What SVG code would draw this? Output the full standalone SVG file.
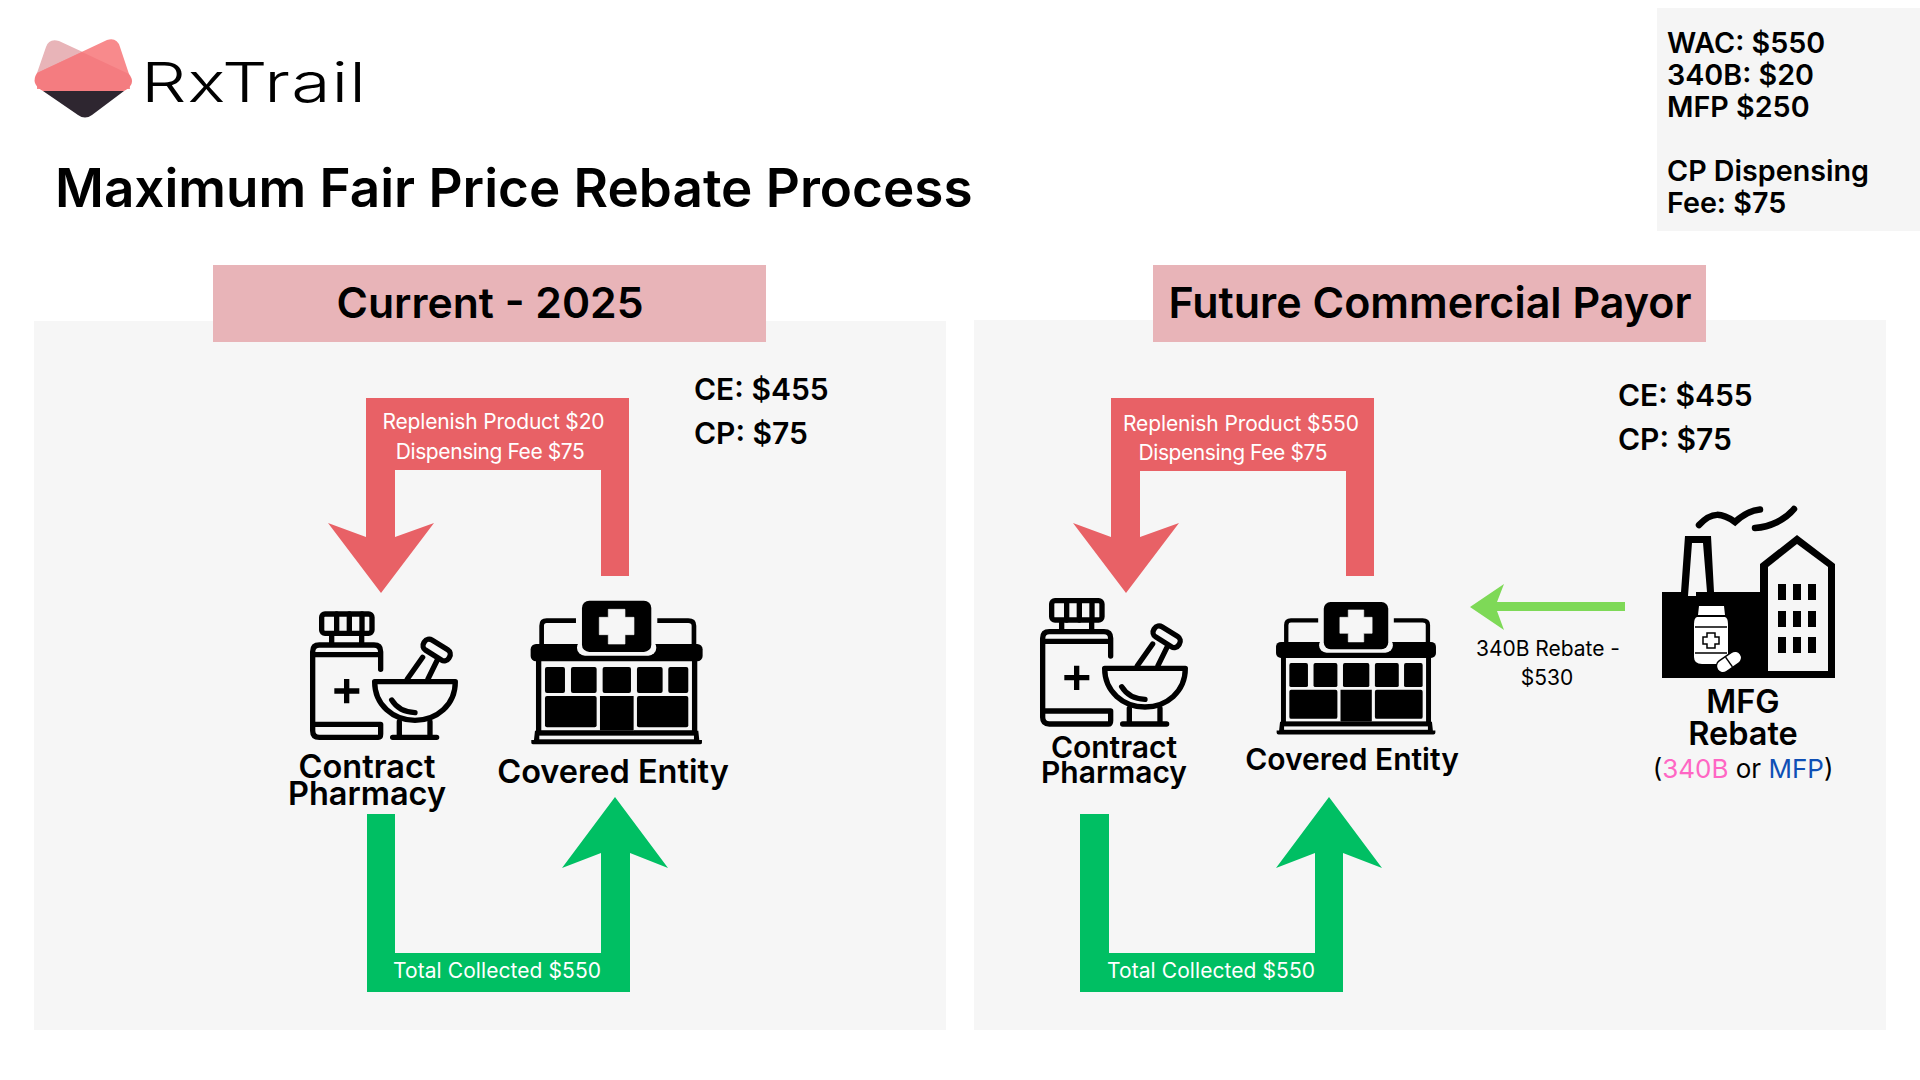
<svg xmlns="http://www.w3.org/2000/svg" width="1920" height="1080" viewBox="0 0 1920 1080">
<style>
text{font-family:"Inter","Noto Sans","Liberation Sans",sans-serif;fill:#000}
.t{font-weight:600}
.w{fill:#fff;font-size:21px;font-weight:400;text-anchor:middle}
.n{font-size:30px;font-weight:600;text-anchor:middle}
.nl{font-size:32.500px;font-weight:600;text-anchor:middle}
.p{fill:#f6f6f6}
.h{fill:#e8b4b8}
.red{fill:#e86166}
.grn{fill:#00bf63}
.ln{fill:none;stroke:#000;stroke-width:16;stroke-linecap:round;stroke-linejoin:round}
</style>
<defs>
<g id="pharm">
<rect x="125" y="102" width="151" height="58" rx="10" class="ln"/>
<path d="M170 102V160M208 102V160M246 102V160M155 165V190M245 165V190" class="ln"/>
<path d="M302 268V215Q302 195 282 195H118Q98 195 98 215V452Q98 472 118 472H295Q302 472 302 462V433H100" class="ln"/>
<path d="M100 224H300" class="ln"/>
<path d="M163 333H238M200 297V370" fill="none" stroke="#000" stroke-width="16"/>
<path d="M284 305H526C526 375 470 421 405 421C340 421 284 375 284 305Z" class="ln"/>
<path d="M335 360C350 385 375 397 405 398" class="ln"/>
<path d="M382 297L428 232M444 297L472 240" class="ln"/>
<rect x="-44" y="-18" width="88" height="36" rx="16" transform="translate(470 210) rotate(32)" class="ln"/>
<path d="M358 425V470M450 425V470M338 472H470" class="ln"/>
</g>
<g id="entity">
<path d="M888 122H800Q785 122 785 137V205M1132 122H1225Q1242 122 1242 137V205" fill="none" stroke="#000" stroke-width="14"/>
<rect x="752" y="192" width="516" height="52" rx="16"/>
<rect x="891" y="180" width="238" height="47" rx="24" fill="#f6f6f6"/>
<rect x="906" y="62" width="208" height="154" rx="22"/>
<path d="M985 88H1035V112H1062V164H1035V192H985V164H958V112H985Z" fill="#f6f6f6" stroke="#f6f6f6" stroke-width="2" stroke-linejoin="round"/>
<path d="M776 240V470M1244 240V470" stroke="#000" stroke-width="16" fill="none"/>
<g>
<rect x="795" y="261" width="60" height="78" rx="6"/><rect x="873" y="261" width="77" height="78" rx="6"/><rect x="968" y="261" width="85" height="78" rx="6"/><rect x="1071" y="261" width="77" height="78" rx="6"/><rect x="1165" y="261" width="60" height="78" rx="6"/>
<rect x="795" y="348" width="155" height="94" rx="6"/><rect x="1071" y="348" width="154" height="94" rx="6"/>
<path d="M960 348H1061V452H960Z"/>
</g>
<path d="M765 452H1255L1258 480H1266V488Q1266 493 1260 493H760Q754 493 754 488V480H762Z"/>
<rect x="778" y="451" width="182" height="16" fill="#000"/><rect x="1061" y="451" width="182" height="16" fill="#000"/>
<rect x="778" y="467" width="464" height="11" fill="#f6f6f6"/>
</g>
</defs>
<rect width="1920" height="1080" fill="#fff"/>

<g id="logo">
<path d="M37 73L46 47Q49 38 59 41L100 60Z" fill="#e8b4b8"/>
<path d="M37 73L107 40Q117 37 120 47L129 74L130 89H37Z" fill="#f88a8c"/>
<path d="M37 73L82 52L129 74Q137 84 124 91H43Q30 84 37 73Z" fill="#f47c80"/>
<path d="M43 91H124L92 115Q85 120 78 115Z" fill="#2e2630"/>
<text transform="translate(141 102) scale(1.3 1)" x="0" y="0" font-size="55" font-weight="300" textLength="173" lengthAdjust="spacing">RxTrail</text>
</g>
<text id="title" class="t" x="55" y="207" font-size="53">Maximum Fair Price Rebate Process</text>

<g id="info">
<rect x="1657" y="8" width="263" height="223" fill="#f5f5f5"/>
<g font-size="28.700" class="t"><text x="1667" y="53">WAC: $550</text><text x="1667" y="85">340B: $20</text><text x="1667" y="117">MFP $250</text><text x="1667" y="181">CP Dispensing</text><text x="1667" y="213">Fee: $75</text></g>
</g>

<g id="panel-left">
<rect class="p" x="34" y="321" width="912" height="709"/>
<rect class="h" x="213" y="265" width="553" height="77"/>
<text class="t" x="490" y="318" font-size="42.700" text-anchor="middle">Current - 2025</text>
<text class="t" x="694" y="400" font-size="30">CE: $455</text>
<text class="t" x="694" y="444" font-size="30">CP: $75</text>
</g>
<g id="panel-right">
<rect class="p" x="974" y="320" width="912" height="710"/>
<rect class="h" x="1153" y="265" width="553" height="77"/>
<text class="t" x="1430" y="318" font-size="43" text-anchor="middle">Future Commercial Payor</text>
<text class="t" x="1618" y="406" font-size="30">CE: $455</text>
<text class="t" x="1618" y="450" font-size="30">CP: $75</text>
</g>

<g id="connectors">
<path class="red" d="M366 398H629V576H601V470H395V537L434 523L381 593L328 523L366 537Z"/>
<path class="red" d="M1111 398H1374V576H1346V471H1140V537L1179 523L1126 593L1073 523L1111 537Z"/>
<path class="grn" d="M367 814H395V953H601V853L562 868L615 797L668 868L630 853V992H367Z"/>
<path class="grn" d="M1080 814H1109V953H1315V853L1276 868L1329 797L1382 868L1343 853V992H1080Z"/>
<path fill="#7ed957" d="M1470 607L1504 584L1497 602H1625V611H1497L1504 630Z"/>
</g>
<g id="connector-labels">
<text class="w" x="493.500" y="429" textLength="222">Replenish Product $20</text>
<text class="w" x="490.300" y="459" textLength="189">Dispensing Fee $75</text>
<text class="w" x="497" y="978" textLength="208">Total Collected $550</text>
<text class="w" x="1241" y="431" textLength="236">Replenish Product $550</text>
<text class="w" x="1233" y="460" textLength="189">Dispensing Fee $75</text>
<text class="w" x="1211" y="978" textLength="208">Total Collected $550</text>
<text x="1548" y="656" font-size="21" text-anchor="middle" textLength="144">340B Rebate -</text>
<text x="1547" y="685" font-size="21" text-anchor="middle">$530</text>
</g>

<g id="contract-pharmacy-left">
<use href="#pharm" transform="translate(280 580) scale(.3333)"/>
<text class="nl" x="367" y="778">Contract</text><text class="nl" x="367" y="805">Pharmacy</text>
</g>
<g id="covered-entity-left">
<use href="#entity" transform="translate(280 580) scale(.3333)"/>
<text class="nl" x="613" y="783">Covered Entity</text>
</g>
<g id="contract-pharmacy-right">
<use href="#pharm" transform="translate(1010 566.7) scale(.3333)"/>
<text class="n" x="1114" y="758">Contract</text><text class="n" x="1114" y="783">Pharmacy</text>
</g>
<g id="covered-entity-right">
<use href="#entity" transform="translate(1042.9 582.9) scale(.31 .3073)"/>
<text class="n" x="1352" y="770">Covered Entity</text>
</g>
<g id="mfg">
<path fill="#000" d="M1662 592H1681L1685 536H1711L1714 592H1760V564L1797 535L1835 564V678H1662Z"/>
<path fill="#f6f6f6" d="M1688 596L1692 543H1703L1707 592H1696V596Z"/>
<path fill="#f6f6f6" d="M1768 567L1797 544L1828 567V671H1768Z"/>
<g><rect x="1778" y="584" width="8" height="16"/><rect x="1793" y="584" width="8" height="16"/><rect x="1808" y="584" width="8" height="16"/><rect x="1778" y="611" width="8" height="16"/><rect x="1793" y="611" width="8" height="16"/><rect x="1808" y="611" width="8" height="16"/><rect x="1778" y="637" width="8" height="16"/><rect x="1793" y="637" width="8" height="16"/><rect x="1808" y="637" width="8" height="16"/></g>
<path d="M1699 525C1712 511 1722 513 1735 522C1745 513 1752 510 1760 509.500M1755 528C1770 527 1785 520 1794 509" fill="none" stroke="#000" stroke-width="6.500" stroke-linecap="round"/>
<path fill="#fff" d="M1699 606H1724L1725 615H1698ZM1697 617H1725Q1728 618 1728 624V657Q1728 664 1720 664H1702Q1694 664 1694 657V624Q1694 618 1697 617Z"/>
<path d="M1695 627H1727M1695 653H1727" stroke="#000" stroke-width="1.500"/>
<path d="M1707 633H1715V637H1719V644H1715V648H1707V644H1703V637H1707Z" fill="none" stroke="#000" stroke-width="1.500"/>
<g transform="translate(1729 662) rotate(-35)"><rect x="-14" y="-6.500" width="28" height="13" rx="6.500" fill="#fff" stroke="#000" stroke-width="1.500"/><path d="M0 -6V6" stroke="#000" stroke-width="1.500"/></g>
<text class="nl" x="1743" y="713">MFG</text><text class="nl" x="1743" y="745">Rebate</text>
<text x="1743" y="778" font-size="26" text-anchor="middle">(<tspan style="fill:#ff66c4">340B</tspan> or <tspan style="fill:#0f4fb5">MFP</tspan>)</text>
</g>
</svg>
